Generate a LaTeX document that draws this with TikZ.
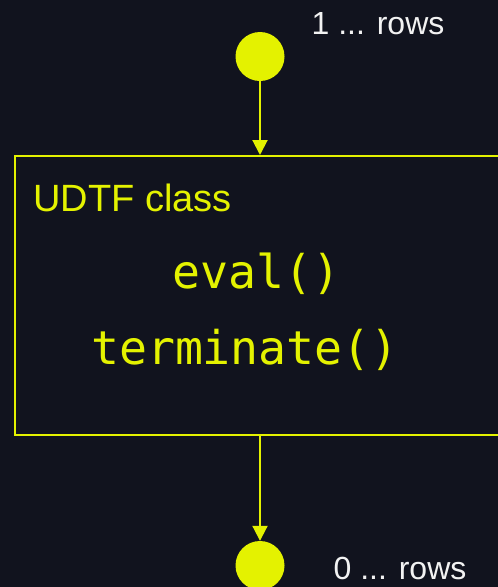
\documentclass[tikz,border=0pt]{standalone}
\usepackage{fontspec}
\setmainfont{Liberation Sans}
\newfontfamily\codefont{DejaVu Sans Mono}
\usetikzlibrary{arrows.meta}
\definecolor{bgc}{HTML}{11131E}
\definecolor{ylw}{HTML}{E4F200}
\definecolor{wht}{HTML}{F2F2F2}
\tikzset{
  flow/.style={draw=ylw, line width=2pt, -{Triangle[length=15pt,width=15pt]}},
  dot/.style={circle, fill=ylw, minimum size=49pt, inner sep=0pt},
  lbl/.style={text=wht, font=\fontsize{32}{36}\selectfont, anchor=base, inner sep=0pt},
  codetxt/.style={text=ylw, font=\codefont\fontsize{46.5}{50}\selectfont, anchor=base, inner sep=0pt},
}
\begin{document}
\begin{tikzpicture}[x=1pt,y=-1pt]
\useasboundingbox (0,0) rectangle (498,587);
\fill[bgc] (0,0) rectangle (498,587);
\node[draw=ylw, line width=2pt, minimum width=496pt, minimum height=279pt, inner sep=0pt] (box) at (263,295.5) {};
\node[dot] (in) at (260,56.5) {};
\node[dot] (out) at (260,565.5) {};
\node[lbl] (inl) at (378,34) {1 ... rows};
\node[lbl] (outl) at (400,579) {0 ... rows};
\node[text=ylw, font=\fontsize{38}{42}\selectfont, anchor=base west, inner sep=0pt] (cls) at (33,211) {UDTF class};
\node[codetxt] (ev) at (256.7,288) {eval()};
\node[codetxt] (tm) at (245,364) {terminate()};
\draw[flow] (in) -- (in |- box.north);
\draw[flow] (out |- box.south) -- (out);
\end{tikzpicture}
\end{document}
